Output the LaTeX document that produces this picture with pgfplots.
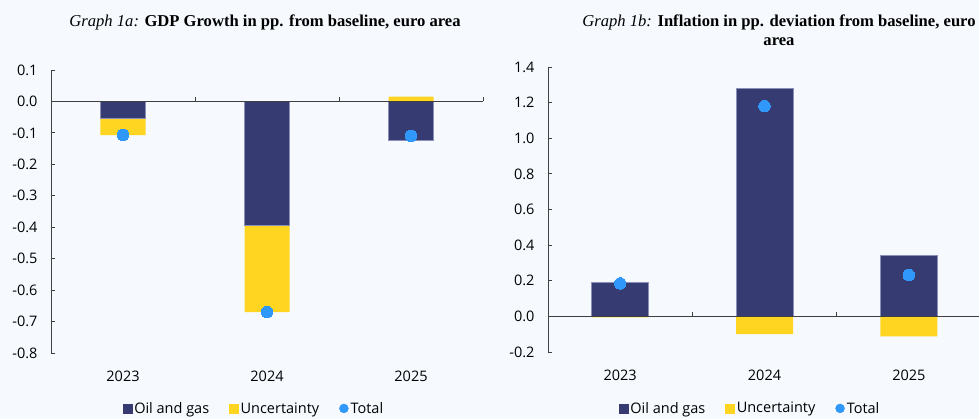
\documentclass[border=0pt]{standalone}
\usepackage{fontspec}
\setmainfont{Open Sans}
\newfontfamily\titlefont{Liberation Serif}
\usepackage{pgfplots}
\pgfplotsset{compat=1.18}
\usepackage{pgfplotstable}

\definecolor{bg}{HTML}{F6FAFE}
\definecolor{navybar}{HTML}{363B72}
\definecolor{navyedge}{HTML}{8A90B8}
\definecolor{uncyellow}{HTML}{FFD522}
\definecolor{dotblue}{HTML}{3098FA}
\definecolor{axisgray}{HTML}{404040}

\pgfplotstableread{
x oil unc total
0 -0.052 -0.055 -0.107
1 -0.395 -0.275 -0.670
2 -0.125 0.015 -0.110
}\gdp

\pgfplotstableread{
x oil unc total
0 0.190 -0.005 0.185
1 1.278 -0.100 1.180
2 0.342 -0.112 0.232
}\infl

\newcommand{\tickfont}{\fontsize{14.5}{17}\selectfont}

\pgfplotsset{
  mainax/.style={
    scale only axis, anchor=south west, xmin=-0.5, xmax=2.5,
    /pgf/number format/assume math mode=true,
    tick label style={font=\tickfont, text=black},
    axis y line*=left, axis x line*=bottom,
    x axis line style={draw=none},
    xtick={0,1,2}, xticklabels={2023,2024,2025},
    xtick style={draw=none},
    tick align=inside, major tick length=4pt,
    y axis line style={draw=axisgray, line width=0.8pt},
    ytick style={draw=axisgray, line width=0.8pt},
    yticklabel style={/pgf/number format/fixed, /pgf/number format/fixed zerofill, /pgf/number format/precision=1, xshift=-10pt},
    xticklabel style={yshift=-14pt},
    legend columns=3,
    legend cell align=left,
    legend style={draw=none, fill=none, font=\tickfont, anchor=center,
      /tikz/every even column/.append style={column sep=18pt}},
  },
  zeroax/.style={
    scale only axis, anchor=south west, xmin=-0.5, xmax=2.5,
    axis x line*=middle, axis y line=none,
    xtick={0.5,1.5,2.5}, xticklabels={}, ytick=\empty,
    x axis line style={draw=axisgray, line width=0.8pt},
    xtick style={draw=axisgray, line width=0.8pt},
    tick align=inside, major tick length=4pt,
  },
  navyimg/.style={legend image code/.code={\fill[navybar] (0pt,-4.5pt) rectangle (9pt,4.5pt);}},
  yelimg/.style={legend image code/.code={\fill[uncyellow] (0pt,-4.5pt) rectangle (9pt,4.5pt);}},
  dotimg/.style={legend image code/.code={\fill[dotblue] (4.5pt,0pt) circle (4.5pt);}},
}

\begin{document}
\begin{tikzpicture}
\path[use as bounding box, fill=bg] (0pt,0pt) rectangle (979pt,419pt);

% ---------- Graph 1a ----------
\begin{axis}[mainax, at={(51pt,66pt)}, width=432pt, height=283pt,
  ymin=-0.8, ymax=0.1, ytick={-0.8,-0.7,...,0.1},
  legend style={at={(0.47,-0.196)}}]
\addlegendimage{navyimg}\addlegendentry{Oil and gas}
\addlegendimage{yelimg}\addlegendentry{Uncertainty}
\addlegendimage{dotimg}\addlegendentry{Total}
\addplot[ybar, bar width=45pt, bar shift=0pt, fill=uncyellow, draw=none, forget plot]
  table[x=x, y expr={(\thisrow{oil})*(\thisrow{unc})>0 ? (\thisrow{oil})+(\thisrow{unc}) : (\thisrow{unc})}] {\gdp};
\addplot[ybar, bar width=45pt, bar shift=0pt, fill=navybar, draw=navyedge, line width=0.5pt, forget plot]
  table[x=x, y=oil] {\gdp};
\addplot[only marks, color=dotblue, mark=*, mark size=5.8pt, mark options={fill=dotblue, draw=dotblue, line width=0pt}, forget plot]
  table[x=x, y=total] {\gdp};
\end{axis}
\begin{axis}[zeroax, at={(51pt,66pt)}, width=432pt, height=283pt, ymin=-0.8, ymax=0.1]
\addplot[draw=none, forget plot] coordinates {(0,0)};
\end{axis}

% ---------- Graph 1b ----------
\begin{axis}[mainax, at={(548pt,67pt)}, width=433pt, height=285pt,
  ymin=-0.2, ymax=1.4, ytick={-0.2,0,...,1.4},
  legend style={at={(0.467,-0.198)}}]
\addlegendimage{navyimg}\addlegendentry{Oil and gas}
\addlegendimage{yelimg}\addlegendentry{Uncertainty}
\addlegendimage{dotimg}\addlegendentry{Total}
\addplot[ybar, bar width=57pt, bar shift=0pt, fill=uncyellow, draw=none, forget plot]
  table[x=x, y expr={(\thisrow{oil})*(\thisrow{unc})>0 ? (\thisrow{oil})+(\thisrow{unc}) : (\thisrow{unc})}] {\infl};
\addplot[ybar, bar width=57pt, bar shift=0pt, fill=navybar, draw=navyedge, line width=0.5pt, forget plot]
  table[x=x, y=oil] {\infl};
\addplot[only marks, color=dotblue, mark=*, mark size=5.8pt, mark options={fill=dotblue, draw=dotblue, line width=0pt}, forget plot]
  table[x=x, y=total] {\infl};
\end{axis}
\begin{axis}[zeroax, at={(548pt,67pt)}, width=433pt, height=285pt, ymin=-0.2, ymax=1.4]
\addplot[draw=none, forget plot] coordinates {(0,0)};
\end{axis}

% ---------- Titles ----------
\node[anchor=base, font=\titlefont\fontsize{16.6}{19}\selectfont] at (265pt,392pt)
  {\textit{Graph 1a:} \textbf{GDP Growth in pp. from baseline, euro area}};
\node[anchor=base, font=\titlefont\fontsize{16.6}{19}\selectfont] at (779pt,392pt)
  {\textit{Graph 1b:} \textbf{Inflation in pp. deviation from baseline, euro}};
\node[anchor=base, font=\titlefont\fontsize{16.6}{19}\selectfont] at (779pt,373pt)
  {\textbf{area}};
\end{tikzpicture}
\end{document}
